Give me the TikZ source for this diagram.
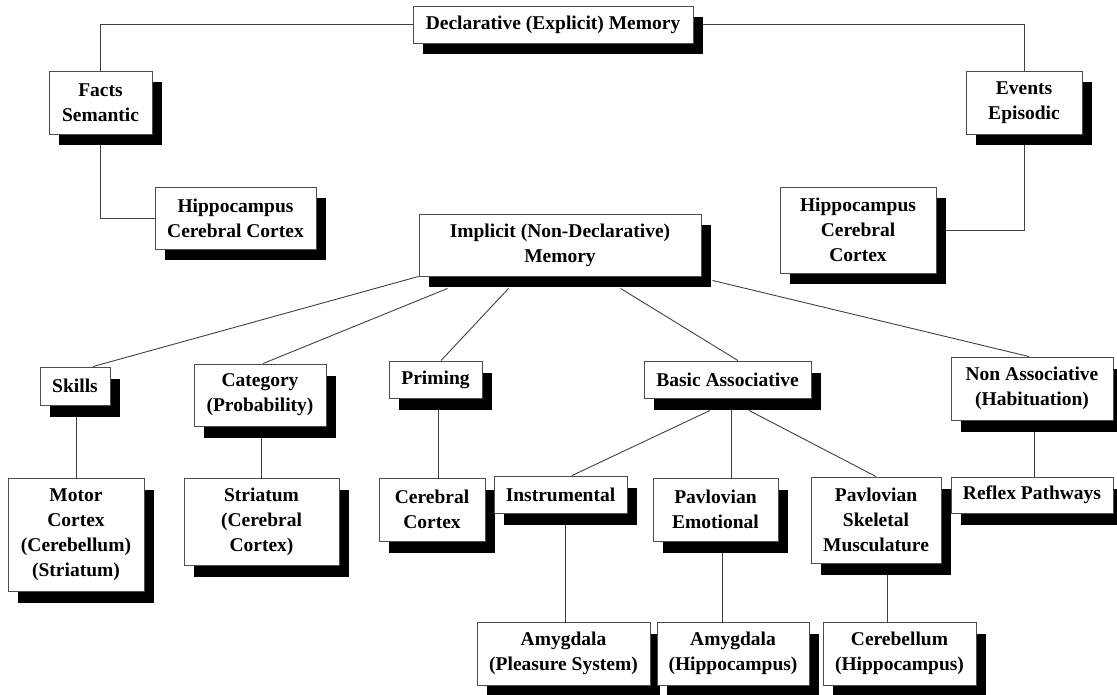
\documentclass[tikz,border=0pt]{standalone}
\usepackage{fontspec}
\setmainfont{Liberation Serif}
\usetikzlibrary{shadows,backgrounds}
\begin{document}
\begin{tikzpicture}[x=1pt,y=-1pt,
  box/.style={draw=black!70, line width=0.9pt, fill=white, inner sep=0pt, align=center,
    font=\fontsize{19.5}{25}\selectfont\bfseries,
    drop shadow={fill=black, opacity=1, shadow xshift=10pt, shadow yshift=-11.5pt}},
  conn/.style={draw=black!75, line width=0.9pt}]
\useasboundingbox (0,0) rectangle (1117,695);
% declarative branch
\node[box, minimum width=280pt, minimum height=37pt] (decl) at (553,24.5) {Declarative (Explicit) Memory};
\node[box, minimum width=103pt, minimum height=63pt] (facts) at (100.5,102.5) {Facts\\Semantic};
\node[box, minimum width=116pt, minimum height=63pt] (events) at (1024,102.5) {Events\\Episodic};
\node[box, minimum width=161pt, minimum height=62pt] (hippoL) at (235.5,218) {Hippocampus\\Cerebral Cortex};
\node[box, minimum width=156pt, minimum height=86pt] (hippoR) at (858,230) {Hippocampus\\Cerebral\\Cortex};
% implicit branch
\node[box, minimum width=282pt, minimum height=62pt] (impl) at (560,245) {Implicit (Non-Declarative)\\Memory};
\node[box, minimum width=70pt, minimum height=38pt] (skills) at (75,386) {Skills};
\node[box, minimum width=132pt, minimum height=62pt] (category) at (260,395) {Category\\(Probability)};
\node[box, minimum width=93pt, minimum height=37pt] (priming) at (435.5,379.5) {Priming};
\node[box, minimum width=167pt, minimum height=37pt] (basic) at (727.5,379.5) {Basic Associative};
\node[box, minimum width=162pt, minimum height=63pt] (nonassoc) at (1032,388.5) {Non Associative\\(Habituation)};
\node[box, minimum width=136pt, minimum height=113pt] (motor) at (76,534.5) {Motor\\Cortex\\(Cerebellum)\\(Striatum)};
\node[box, minimum width=155pt, minimum height=87pt] (striatum) at (261.5,521.5) {Striatum\\(Cerebral\\Cortex)};
\node[box, minimum width=106pt, minimum height=63pt] (cerebral) at (432,509.5) {Cerebral\\Cortex};
\node[box, minimum width=133pt, minimum height=37pt] (instr) at (560.5,494.5) {Instrumental};
\node[box, minimum width=125pt, minimum height=63pt] (emot) at (715.5,509.5) {Pavlovian\\Emotional};
\node[box, minimum width=130pt, minimum height=86pt] (skel) at (876,520) {Pavlovian\\Skeletal\\Musculature};
\node[box, minimum width=162pt, minimum height=36pt] (reflex) at (1032,495) {Reflex Pathways};
\node[box, minimum width=173pt, minimum height=63pt] (amygP) at (563.5,653.5) {Amygdala\\(Pleasure System)};
\node[box, minimum width=152pt, minimum height=63pt] (amygH) at (733,653.5) {Amygdala\\(Hippocampus)};
\node[box, minimum width=153pt, minimum height=63pt] (cereb) at (899.5,653.5) {Cerebellum\\(Hippocampus)};
\begin{scope}[on background layer]
\draw[conn] (decl.west) -| (facts.north);
\draw[conn] (decl.east) -| (events.north);
\draw[conn] (facts.south) |- (hippoL.west);
\draw[conn] (events.south) |- (hippoR.east);
\draw[conn] (impl.south west) -- ([xshift=18pt]skills.north);
\draw[conn] ([shift={(29,12)}]impl.south west) -- ([xshift=3pt]category.north);
\draw[conn] ([shift={(90,12)}]impl.south west) -- ([xshift=5.5pt]priming.north);
\draw[conn] ([shift={(202,12)}]impl.south west) -- ([xshift=10.5pt]basic.north);
\draw[conn] ([shift={(11,4)}]impl.south east) -- ([xshift=-3pt]nonassoc.north);
\draw[conn] ([shift={(-17.5,12)}]basic.south) -- ([xshift=11.5pt]instr.north);
\draw[conn] ([xshift=3.5pt]basic.south) -- ([xshift=3.5pt]basic.south |- emot.north);
\draw[conn] ([shift={(21.5,12)}]basic.south) -- (skel.north);
\draw[conn] (motor.north) -- (motor.north |- skills.south);
\draw[conn] (striatum.north) -- (striatum.north |- category.south);
\draw[conn] ([xshift=2.5pt]priming.south) -- ([xshift=2.5pt]priming.south |- cerebral.north);
\draw[conn] ([xshift=1.5pt]amygP.north) -- ([xshift=1.5pt]amygP.north |- instr.south);
\draw[conn] ([xshift=6.5pt]emot.south) -- ([xshift=6.5pt]emot.south |- amygH.north);
\draw[conn] ([xshift=11pt]skel.south) -- ([xshift=11pt]skel.south |- cereb.north);
\draw[conn] ([xshift=2pt]nonassoc.south) -- ([xshift=2pt]nonassoc.south |- reflex.north);
\end{scope}
\end{tikzpicture}
\end{document}
